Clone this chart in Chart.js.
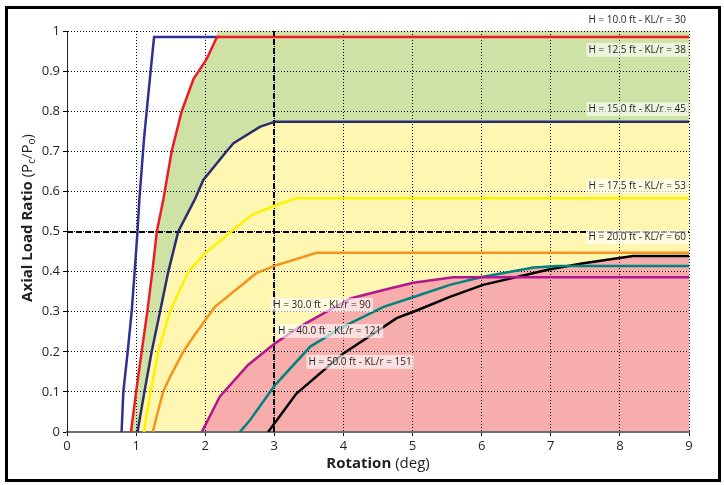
<!DOCTYPE html>
<html>
<head>
<meta charset="utf-8">
<script src="https://cdn.jsdelivr.net/npm/chart.js@4"></script>
<style>
  html, body { margin: 0; padding: 0; background: #fff; }
  #wrap { position: relative; width: 724px; height: 485px; }
</style>
</head>
<body>
<div id="wrap"><canvas id="chart" width="724" height="485"></canvas></div>
<script>
// rotation (deg) and axial load ratio
const h10Rot   = [0.79, 0.815, 0.878, 0.936, 0.979, 1.02, 1.047, 1.114, 1.153, 1.21, 1.26, 2.2];
const h10Ratio = [0, 0.1, 0.2, 0.3, 0.4, 0.5, 0.58, 0.73, 0.8, 0.9, 0.985, 0.985];

const h125Rot   = [0.926, 1.0, 1.08, 1.162, 1.235, 1.3, 1.394, 1.515, 1.66, 1.83, 2.02, 2.17, 9];
const h125Ratio = [0, 0.1, 0.2, 0.3, 0.4, 0.5, 0.58, 0.7, 0.8, 0.88, 0.93, 0.985, 0.985];

const h15Rot   = [1.02, 1.12, 1.225, 1.346, 1.466, 1.61, 1.85, 1.97, 2.31, 2.41, 2.79, 3.01, 9];
const h15Ratio = [0, 0.1, 0.2, 0.3, 0.4, 0.5, 0.58, 0.628, 0.7, 0.72, 0.761, 0.774, 0.774];

const h175Rot   = [1.114, 1.21, 1.32, 1.49, 1.755, 2.0, 2.38, 2.67, 3.03, 3.32, 9];
const h175Ratio = [0, 0.1, 0.2, 0.3, 0.4, 0.446, 0.5, 0.541, 0.566, 0.583, 0.583];

const h20Rot   = [1.24, 1.39, 1.49, 1.68, 1.83, 2.14, 2.74, 3.03, 3.61, 9];
const h20Ratio = [0, 0.1, 0.137, 0.2, 0.238, 0.312, 0.396, 0.416, 0.447, 0.447];

const h30Rot   = [1.95, 2.21, 2.62, 3.01, 3.37, 4.1, 4.58, 5.01, 5.59, 9];
const h30Ratio = [0, 0.088, 0.167, 0.221, 0.263, 0.333, 0.354, 0.372, 0.386, 0.386];

const h40Rot   = [2.5, 2.65, 3.01, 3.52, 4.0, 4.58, 5.06, 5.54, 6.02, 6.75, 7.09, 9];
const h40Ratio = [0, 0.03, 0.117, 0.213, 0.263, 0.312, 0.339, 0.367, 0.387, 0.41, 0.414, 0.414];

const h50Rot   = [2.91, 3.32, 4.0, 4.77, 5.06, 5.54, 6.02, 6.99, 7.47, 8.19, 9];
const h50Ratio = [0, 0.096, 0.196, 0.284, 0.303, 0.337, 0.367, 0.406, 0.421, 0.439, 0.439];

const curveNames = [
  'H = 10.0 ft - KL/r = 30', 'H = 12.5 ft - KL/r = 38', 'H = 15.0 ft - KL/r = 45',
  'H = 17.5 ft - KL/r = 53', 'H = 20.0 ft - KL/r = 60', 'H = 30.0 ft - KL/r = 90',
  'H = 40.0 ft - KL/r = 121', 'H = 50.0 ft - KL/r = 151'
];

const xTicks = [0, 1, 2, 3, 4, 5, 6, 7, 8, 9];
const yTicks = [0, 0.1, 0.2, 0.3, 0.4, 0.5, 0.6, 0.7, 0.8, 0.9, 1];

const limitRot = 3;     // dashed reference lines
const limitRatio = 0.5;

const pts = (xs, ys) => xs.map((x, i) => ({ x: x, y: ys[i] }));

// green band runs along the 12.5 ft curve and then up to the top of the plot
const greenEdge = pts(h125Rot.slice(0, -1), h125Ratio.slice(0, -1))
  .concat([{ x: h125Rot[h125Rot.length - 2], y: 1 }, { x: 9, y: 1 }]);

const FONT = 'Open Sans';
const INK = '#231f20';

function line(label, data, color) {
  return { label, data, borderColor: color, borderWidth: 2.5, pointRadius: 0, fill: false, tension: 0 };
}
function area(data, color) {
  return { data, borderColor: 'rgba(0,0,0,0)', borderWidth: 0, pointRadius: 0, backgroundColor: color, fill: 'origin', tension: 0 };
}

// label spots (data units), kept apart from the values
const notes = [
  [0, 8.25, 1.027, false], [1, 8.25, 0.953, true], [2, 8.25, 0.805, true],
  [3, 8.25, 0.614, true], [4, 8.25, 0.486, true], [5, 3.69, 0.317, true],
  [6, 3.80, 0.252, true], [7, 4.24, 0.175, true]
];

const extras = {
  id: 'extras',
  beforeDatasetsDraw(chart) {
    const { ctx, chartArea: a, scales: { x, y } } = chart;
    ctx.save();
    ctx.strokeStyle = '#000';
    ctx.lineWidth = 2;
    ctx.setLineDash([6, 3]);
    const px = Math.round(x.getPixelForValue(limitRot));
    const py = Math.round(y.getPixelForValue(limitRatio));
    ctx.beginPath();
    ctx.moveTo(px, a.bottom); ctx.lineTo(px, a.top);
    ctx.moveTo(a.left, py); ctx.lineTo(a.right, py);
    ctx.stroke();
    ctx.restore();
  },
  afterDatasetsDraw(chart) {
    const { ctx, scales: { x, y } } = chart;
    ctx.save();
    ctx.font = '10px "' + FONT + '"';
    ctx.textAlign = 'center';
    ctx.textBaseline = 'middle';
    notes.forEach(([i, nx, ny, boxed]) => {
      const cx = x.getPixelForValue(nx), cy = y.getPixelForValue(ny);
      const w = ctx.measureText(curveNames[i]).width;
      if (boxed) {
        ctx.fillStyle = 'rgba(255,255,255,0.62)';
        ctx.fillRect(cx - w / 2 - 2, cy - 7, w + 4, 14);
      }
      ctx.fillStyle = INK;
      ctx.fillText(curveNames[i], cx, cy);
    });
    ctx.restore();
  },
  afterDraw(chart) {
    const { ctx, chartArea: a } = chart;
    ctx.save();
    ctx.fillStyle = INK;
    ctx.textBaseline = 'middle';
    // x title
    const bold = 'bold 15px "' + FONT + '"', reg = '15px "' + FONT + '"';
    ctx.font = bold; const w1 = ctx.measureText('Rotation').width;
    ctx.font = reg; const w2 = ctx.measureText(' (deg)').width;
    let sx = (a.left + a.right) / 2 - (w1 + w2) / 2;
    ctx.textAlign = 'left';
    ctx.font = bold; ctx.fillText('Rotation', sx, 464);
    ctx.font = reg; ctx.fillText(' (deg)', sx + w1, 464);
    // y title, rotated
    const sub = '10px "' + FONT + '"';
    const parts = [['Axial Load Ratio', bold, 0], [' (P', reg, 0], ['c', sub, 4], ['/P', reg, 0], ['o', sub, 4], [')', reg, 0]];
    let total = 0;
    parts.forEach(p => { ctx.font = p[1]; total += ctx.measureText(p[0]).width; });
    ctx.translate(28, 218);
    ctx.rotate(-Math.PI / 2);
    let tx = -total / 2;
    parts.forEach(p => {
      ctx.font = p[1];
      ctx.fillText(p[0], tx, p[2]);
      tx += ctx.measureText(p[0]).width;
    });
    ctx.restore();
    // outer frame
    ctx.save();
    ctx.strokeStyle = '#000';
    ctx.lineWidth = 3;
    ctx.strokeRect(6.5, 7.5, 713, 473);
    ctx.restore();
  }
};

new Chart(document.getElementById('chart'), {
  type: 'line',
  data: {
    datasets: [
      line(curveNames[1], pts(h125Rot, h125Ratio), '#ed1c24'),
      line(curveNames[0], pts(h10Rot, h10Ratio), '#2e3192'),
      line(curveNames[2], pts(h15Rot, h15Ratio), '#2b2d6e'),
      line(curveNames[3], pts(h175Rot, h175Ratio), '#fff200'),
      line(curveNames[4], pts(h20Rot, h20Ratio), '#f7941d'),
      line(curveNames[5], pts(h30Rot, h30Ratio), '#b2178f'),
      line(curveNames[6], pts(h40Rot, h40Ratio), '#00837e'),
      line(curveNames[7], pts(h50Rot, h50Ratio), '#000000'),
      area(pts(h30Rot, h30Ratio), '#f6adac'),
      area(pts(h40Rot, h40Ratio), '#f6adac'),
      area(pts(h50Rot, h50Ratio), '#f6adac'),
      area(pts(h15Rot, h15Ratio), '#fff6b1'),
      area(greenEdge, '#cee2a5')
    ]
  },
  options: {
    responsive: false,
    animation: false,
    events: [],
    layout: { padding: { left: 0, right: 35, top: 31, bottom: 0 } },
    plugins: {
      legend: { display: false },
      tooltip: { enabled: false },
      filler: { drawTime: 'beforeDraw' }
    },
    scales: {
      x: {
        type: 'linear', min: 0, max: 9,
        afterFit: s => { s.height = 53; },
        afterBuildTicks: s => { s.ticks = xTicks.map(v => ({ value: v })); },
        ticks: { color: INK, font: { family: FONT, size: 13 }, padding: 2, maxRotation: 0 },
        grid: { color: '#000', lineWidth: 1, tickLength: 4, tickColor: '#000' },
        border: { color: '#6d6e71', width: 2, dash: [1, 2] }
      },
      y: {
        type: 'linear', min: 0, max: 1,
        afterFit: s => { s.width = 67; },
        afterBuildTicks: s => { s.ticks = yTicks.map(v => ({ value: v })); },
        ticks: { color: INK, font: { family: FONT, size: 13 }, padding: 3, callback: v => String(+v.toFixed(1)) },
        grid: { color: '#000', lineWidth: 1, tickLength: 4, tickColor: '#000' },
        border: { color: INK, width: 1, dash: [1, 2] }
      }
    }
  },
  plugins: [extras]
});
</script>
</body>
</html>
